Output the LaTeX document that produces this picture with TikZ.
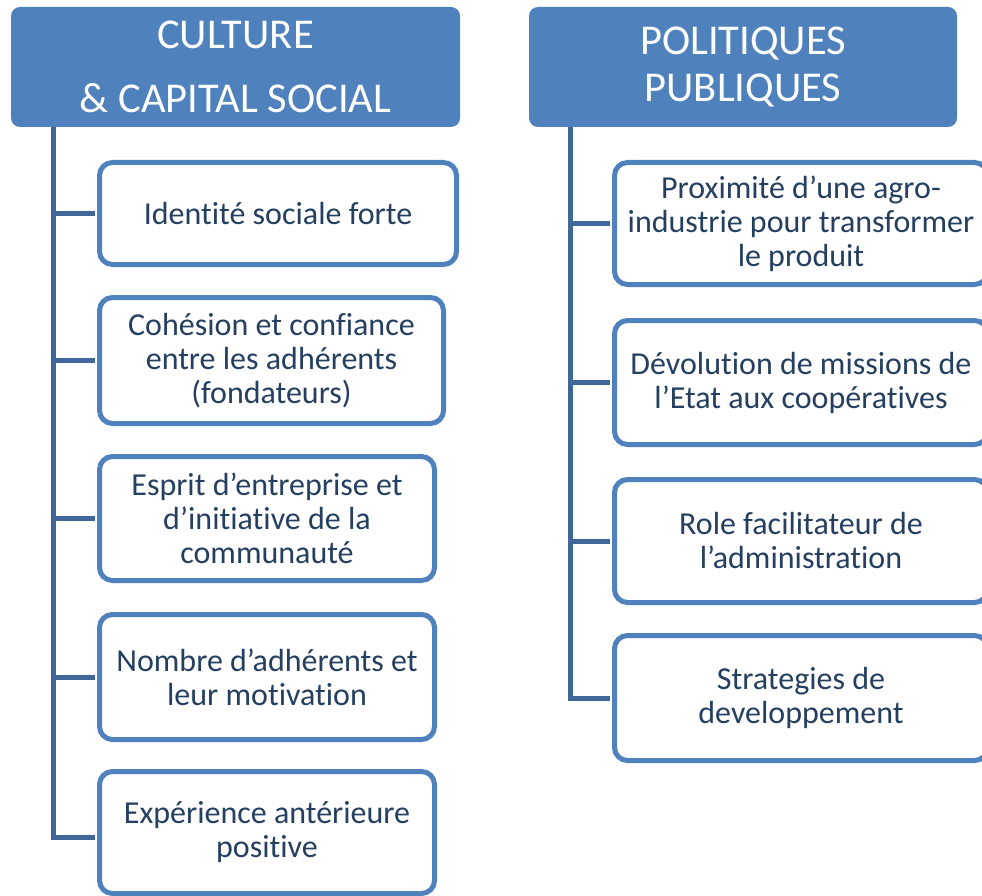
\documentclass[tikz,border=0pt]{standalone}
\usepackage{fontspec}
\setmainfont{Carlito}[Ligatures=NoCommon]
\definecolor{hdr}{HTML}{4F81BD}
\definecolor{lnk}{HTML}{41669A}
\definecolor{txt}{HTML}{243F60}
\begin{document}
\begin{tikzpicture}[x=1pt,y=-1pt,
  hdrbox/.style={fill=hdr, rounded corners=9pt, text=white, font=\fontsize{42.5}{47}\selectfont, align=center, inner sep=0pt},
  itembox/.style={draw=hdr, line width=5pt, fill=white, rounded corners=13pt, text=txt, font=\fontsize{32}{34}\selectfont, align=center, inner sep=0pt},
  conn/.style={draw=lnk, line width=5pt, shorten >=2.5pt}]
\useasboundingbox (0,0) rectangle (982,896);
\clip (0,0) rectangle (982,896);
% headers
\node[hdrbox, minimum width=449pt, minimum height=120pt] (h1) at (235.5,67) {CULTURE\\[17pt]\& CAPITAL SOCIAL};
\node[hdrbox, minimum width=428pt, minimum height=120pt] (h2) at (743,67) {POLITIQUES\\PUBLIQUES};
% left items
\node[itembox, minimum width=357pt, minimum height=102pt] (l1) at (278,213.5) {Identité sociale forte};
\node[itembox, minimum width=344pt, minimum height=126pt] (l2) at (271.5,360.5) {Cohésion et confiance\\entre les adhérents\\(fondateurs)};
\node[itembox, minimum width=335pt, minimum height=124pt] (l3) at (267,518.5) {Esprit d’entreprise et\\d’initiative de la\\communauté};
\node[itembox, minimum width=335pt, minimum height=125pt] (l4) at (267,677) {Nombre d’adhérents et\\leur motivation};
\node[itembox, minimum width=335pt, minimum height=122pt] (l5) at (267,832.5) {Expérience antérieure\\positive};
% right items
\node[itembox, minimum width=373pt, minimum height=122pt] (r1) at (801,223.5) {Proximité d’une agro-\\industrie pour transformer\\le produit};
\node[itembox, minimum width=373pt, minimum height=124pt] (r2) at (801,382.5) {Dévolution de missions de\\l’Etat aux coopératives};
\node[itembox, minimum width=373pt, minimum height=123pt] (r3) at (801,541) {Role facilitateur de\\l’administration};
\node[itembox, minimum width=373pt, minimum height=125pt] (r4) at (801,698) {Strategies de\\developpement};
% trunks
\coordinate (tl) at (53.5,127);
\coordinate (tr) at (570,127);
\draw[conn] (tl) |- ([yshift=-4.5pt]l5.west);
\foreach \n in {l1,l2,l3,l4} \draw[conn] (tl |- \n.west) -- (\n.west);
\draw[conn] (tr) |- (r4.west);
\foreach \n in {r1,r2,r3} \draw[conn] (tr |- \n.west) -- (\n.west);
\end{tikzpicture}
\end{document}
